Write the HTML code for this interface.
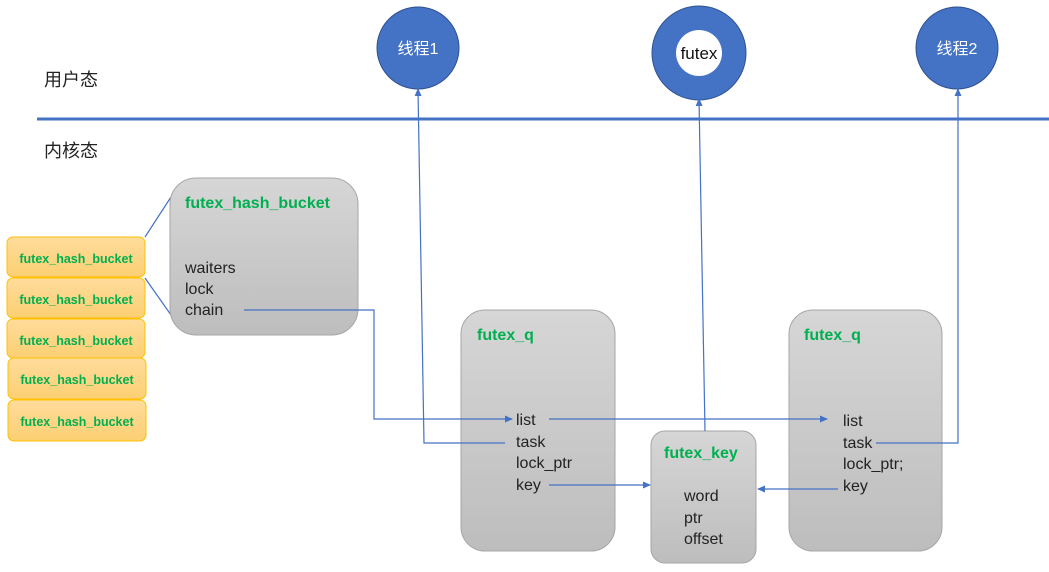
<!DOCTYPE html>
<html><head><meta charset="utf-8"><style>
html,body{margin:0;padding:0;background:#fff;}
svg{display:block}
text{font-family:"Liberation Sans","Noto Sans CJK SC",sans-serif;}
.t{font-size:16px;fill:#222}
.g{font-size:16px;font-weight:bold;fill:#00b050}
.y{font-size:12.5px;font-weight:bold;fill:#00b050}
.l{stroke:#4472c4;stroke-width:1.2;fill:none}
</style></head><body>
<svg width="1049" height="572" viewBox="0 0 1049 572" xmlns="http://www.w3.org/2000/svg">
<defs>
<linearGradient id="gr" x1="0" y1="0" x2="0" y2="1"><stop offset="0" stop-color="#d6d6d6"/><stop offset="1" stop-color="#bdbdbd"/></linearGradient>
<linearGradient id="yl" x1="0" y1="0" x2="0" y2="1"><stop offset="0" stop-color="#fedc9c"/><stop offset="1" stop-color="#fccf72"/></linearGradient>
<marker id="a" markerWidth="8" markerHeight="8" refX="7" refY="4" orient="auto" markerUnits="userSpaceOnUse"><path d="M0,0.5 L8,4 L0,7.5z" fill="#4472c4"/></marker>
</defs>
<text x="44" y="86" style="font-size:18px;fill:#222">用户态</text>
<text x="44" y="157" style="font-size:18px;fill:#222">内核态</text>
<rect x="37" y="117.5" width="1012" height="3" fill="#4472c4"/>
<circle cx="418" cy="48" r="41" fill="#4472c4" stroke="#2f528f" stroke-width="1"/>
<text x="418" y="54" text-anchor="middle" style="font-size:16px;fill:#fff">线程1</text>
<circle cx="699" cy="53" r="47" fill="#4472c4" stroke="#2f528f" stroke-width="1"/>
<circle cx="699" cy="53" r="23" fill="#fff"/>
<text x="699" y="59" text-anchor="middle" style="font-size:17px;fill:#111">futex</text>
<circle cx="957" cy="48" r="41" fill="#4472c4" stroke="#2f528f" stroke-width="1"/>
<text x="957" y="54" text-anchor="middle" style="font-size:16px;fill:#fff">线程2</text>

<g stroke="#ffc000" stroke-width="1" fill="url(#yl)">
<rect x="7" y="237" width="138" height="40" rx="6"/>
<rect x="7" y="278" width="138" height="40" rx="6"/>
<rect x="7" y="319" width="138" height="39" rx="6"/>
<rect x="8" y="358" width="138" height="41" rx="6"/>
<rect x="8" y="400" width="138" height="41" rx="6"/>
</g>
<text class="y" x="76" y="263" text-anchor="middle">futex_hash_bucket</text>
<text class="y" x="76" y="304" text-anchor="middle">futex_hash_bucket</text>
<text class="y" x="76" y="345" text-anchor="middle">futex_hash_bucket</text>
<text class="y" x="77" y="384" text-anchor="middle">futex_hash_bucket</text>
<text class="y" x="77" y="426" text-anchor="middle">futex_hash_bucket</text>
<line class="l" x1="145" y1="237" x2="171" y2="197"/>
<line class="l" x1="145" y1="278" x2="171" y2="315"/>

<rect x="170" y="178" width="188" height="157" rx="26" fill="url(#gr)" stroke="#a6a6a6"/>
<text class="g" x="185" y="208">futex_hash_bucket</text>
<text class="t" x="185" y="273">waiters</text>
<text class="t" x="185" y="294">lock</text>
<text class="t" x="185" y="315">chain</text>

<rect x="461" y="310" width="154" height="241" rx="24" fill="url(#gr)" stroke="#a6a6a6"/>
<text class="g" x="477" y="340">futex_q</text>
<text class="t" x="516" y="425">list</text>
<text class="t" x="516" y="447">task</text>
<text class="t" x="516" y="468">lock_ptr</text>
<text class="t" x="516" y="490">key</text>

<rect x="789" y="310" width="153" height="241" rx="24" fill="url(#gr)" stroke="#a6a6a6"/>
<text class="g" x="804" y="340">futex_q</text>
<text class="t" x="843" y="426">list</text>
<text class="t" x="843" y="448">task</text>
<text class="t" x="843" y="469">lock_ptr;</text>
<text class="t" x="843" y="491">key</text>

<rect x="651" y="431" width="105" height="132" rx="14" fill="url(#gr)" stroke="#a6a6a6"/>
<text class="g" x="664" y="458">futex_key</text>
<text class="t" x="684" y="501">word</text>
<text class="t" x="684" y="523">ptr</text>
<text class="t" x="684" y="544">offset</text>

<polyline class="l" points="244,310 374,310 374,419 512,419" marker-end="url(#a)"/>
<line class="l" x1="549" y1="419" x2="827" y2="419" marker-end="url(#a)"/>
<polyline class="l" points="505,443 424,443 418,89" marker-end="url(#a)"/>
<line class="l" x1="705" y1="431" x2="699" y2="99" marker-end="url(#a)"/>
<line class="l" x1="549" y1="485" x2="650" y2="485" marker-end="url(#a)"/>
<line class="l" x1="838" y1="489" x2="758" y2="489" marker-end="url(#a)"/>
<polyline class="l" points="876,443 958,443 958,89" marker-end="url(#a)"/>
</svg>
</body></html>
